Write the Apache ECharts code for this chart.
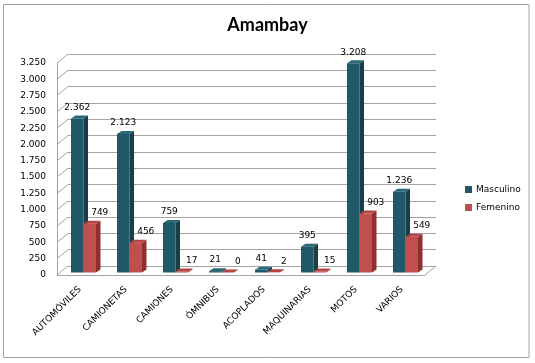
<!DOCTYPE html>
<html><head><meta charset="utf-8">
<script src="https://cdn.jsdelivr.net/npm/echarts@6/dist/echarts.min.js"></script>
<style>html,body{margin:0;padding:0;background:#fff}#c{width:535px;height:363px}</style>
</head><body><div id="c"></div>
<script>
// ---- data ----
const titleText = 'Amambay';
const categories = ['AUTOMÓVILES','CAMIONETAS','CAMIONES','ÓMNIBUS','ACOPLADOS','MAQUINARIAS','MOTOS','VARIOS'];
const seriesNames = ['Masculino','Femenino'];
const masculino = [2362, 2123, 759, 21, 41, 395, 3208, 1236];
const femenino = [749, 456, 17, 0, 2, 15, 903, 549];
const yMin = 0, yMax = 3250, yStep = 250;
const yTicks = [0,250,500,750,1000,1250,1500,1750,2000,2250,2500,2750,3000,3250];

// ---- style ----
const FONT = '"DejaVu Sans", Verdana, sans-serif';
const GRID = {left: 57, top: 63, width: 368, height: 212};
const WALL = {dx: 11, dy: -9};
const BAR = {shiftY: -2.5, depthX: 4.5, depthY: -3, widthRatio: 12.5/46, startRatio: -9/46};
const faces = [
  {front: '#215867', side: '#173f4a', top: '#2a6878', labelDx: 0},
  {front: '#c0504d', side: '#8e302e', top: '#b44441', labelDx: 10}
];
const gridColor = '#a3a3a3';
const fmt = v => String(v).replace(/\B(?=(\d{3})+(?!\d))/g, '.');

function barRenderer(sIdx) {
  const f = faces[sIdx];
  return function (params, api) {
    const cat = api.value(0), val = api.value(1);
    const base = api.coord([cat, 0]);
    const top = api.coord([cat, val]);
    const band = api.size([1, 0])[0];
    const w = band * BAR.widthRatio;
    const xl = base[0] + band * BAR.startRatio + sIdx * w;
    const yb = base[1] + BAR.shiftY;
    const yt = top[1] + BAR.shiftY;
    const dx = BAR.depthX, dy = BAR.depthY;
    return {
      type: 'group',
      children: [
        {type: 'polygon', shape: {points: [[xl + w, yt], [xl + w + dx, yt + dy], [xl + w + dx, yb + dy], [xl + w, yb]]}, style: {fill: f.side}},
        {type: 'polygon', shape: {points: [[xl, yt], [xl + dx, yt + dy], [xl + w + dx, yt + dy], [xl + w, yt]]}, style: {fill: f.top}},
        {type: 'rect', shape: {x: xl, y: yt, width: w, height: Math.max(0, yb - yt)}, style: {fill: f.front}},
        {type: 'text', style: {text: fmt(val), x: xl + w / 2 + f.labelDx, y: yt - 11, align: 'center', verticalAlign: 'middle', font: '9px ' + FONT, fill: '#000'}}
      ]
    };
  };
}

function wallTickRenderer(params, api) {
  const v = api.value(1);
  const p = api.coord([0, v]);
  const cs = params.coordSys;
  const x0 = cs.x, y = p[1];
  const children = [
    {type: 'line', shape: {x1: x0, y1: y, x2: x0 + WALL.dx, y2: y + WALL.dy}, style: {stroke: gridColor, lineWidth: 1}}
  ];
  if (v === yMin) {
    const xr = cs.x + cs.width;
    children.push({type: 'line', shape: {x1: xr, y1: y, x2: xr + WALL.dx, y2: y + WALL.dy}, style: {stroke: gridColor, lineWidth: 1}});
  }
  return {type: 'group', children};
}

const chart = echarts.init(document.getElementById('c'), null, {renderer: 'canvas'});
chart.setOption({
  animation: false,
  backgroundColor: '#fff',
  title: {text: titleText, left: 'center', top: 11, textStyle: {fontFamily: 'Lato', fontWeight: 'bold', fontSize: 18, color: '#000'}},
  legend: {
    data: seriesNames, orient: 'vertical', left: 460, top: 180, icon: 'rect', itemWidth: 7, itemHeight: 7, itemGap: 9,
    textStyle: {fontFamily: FONT, fontSize: 9, color: '#000', padding: [0, 0, 0, -1]}
  },
  graphic: [{type: 'rect', shape: {x: 3.5, y: 4.5, width: 525.5, height: 353}, style: {fill: null, stroke: '#a0a0a0', lineWidth: 1}, z: 100}],
  grid: [
    {left: GRID.left, top: GRID.top, width: GRID.width, height: GRID.height},
    {left: GRID.left + WALL.dx, top: GRID.top + WALL.dy, width: GRID.width, height: GRID.height}
  ],
  xAxis: [
    {type: 'category', gridIndex: 0, data: categories,
     axisLine: {lineStyle: {color: gridColor}}, axisTick: {length: 5, lineStyle: {color: gridColor}},
     axisLabel: {interval: 0, rotate: 45, margin: 13, fontFamily: FONT, fontSize: 9, color: '#000'}},
    {type: 'category', gridIndex: 1, data: categories, show: false}
  ],
  yAxis: [
    {type: 'value', gridIndex: 0, min: yMin, max: yMax, interval: yStep,
     axisLine: {show: true, lineStyle: {color: gridColor}}, axisTick: {show: false}, splitLine: {show: false},
     axisLabel: {margin: 11, fontFamily: FONT, fontSize: 9, color: '#000', formatter: fmt}},
    {type: 'value', gridIndex: 1, min: yMin, max: yMax, interval: yStep,
     axisLine: {show: false}, axisTick: {show: false}, axisLabel: {show: false},
     splitLine: {show: true, lineStyle: {color: gridColor, width: 1}}}
  ],
  series: [
    {type: 'custom', name: 'wall', xAxisIndex: 0, yAxisIndex: 0, renderItem: wallTickRenderer,
     data: yTicks.map(v => [0, v]), silent: true, z: 1},
    {type: 'custom', name: seriesNames[0], xAxisIndex: 0, yAxisIndex: 0, renderItem: barRenderer(0),
     itemStyle: {color: faces[0].front}, data: masculino.map((v, i) => [i, v]), encode: {x: 0, y: 1}, z: 5},
    {type: 'custom', name: seriesNames[1], xAxisIndex: 0, yAxisIndex: 0, renderItem: barRenderer(1),
     itemStyle: {color: faces[1].front}, data: femenino.map((v, i) => [i, v]), encode: {x: 0, y: 1}, z: 5}
  ]
});
</script></body></html>
